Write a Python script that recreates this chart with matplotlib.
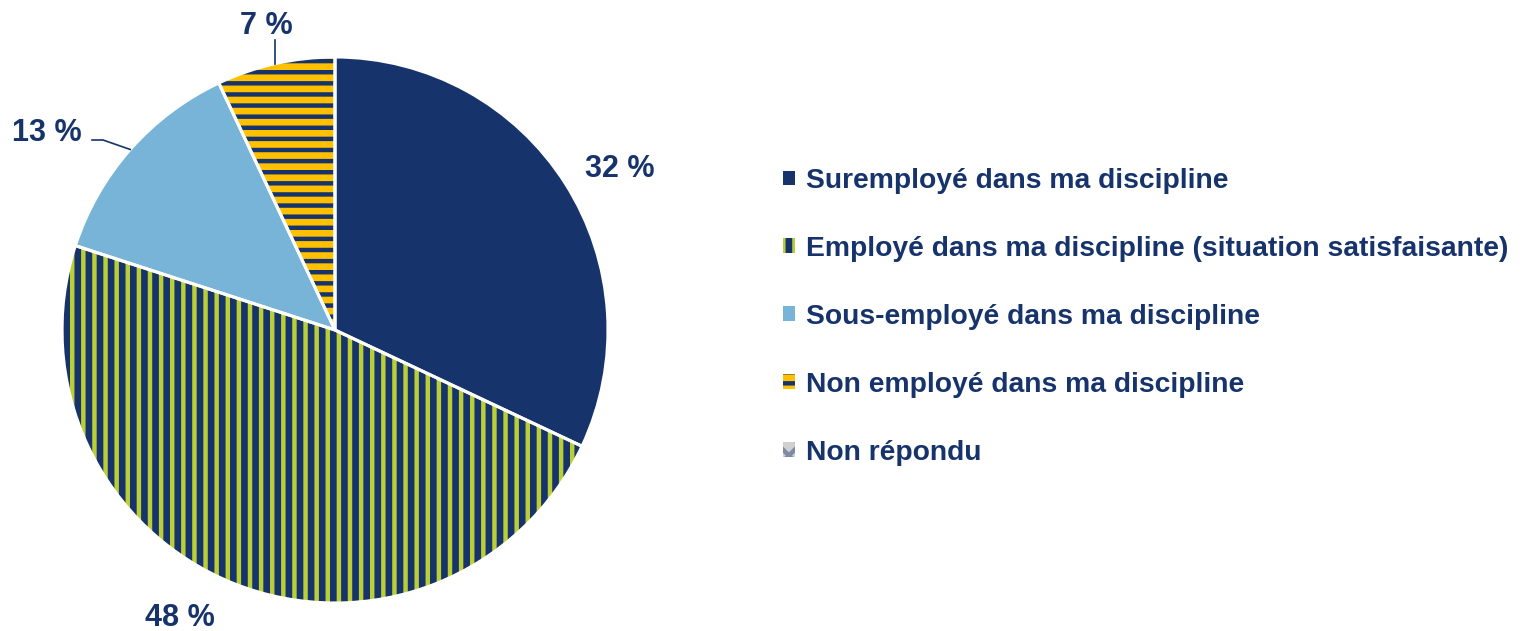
import numpy as np
import matplotlib
matplotlib.use("Agg")
import matplotlib.pyplot as plt
from matplotlib.patches import Patch

plt.rcParams['font.family'] = ['Liberation Sans', 'DejaVu Sans']
plt.rcParams['hatch.linewidth'] = 1.6

# donnees
categories = ['Suremployé dans ma discipline',
              'Employé dans ma discipline (situation satisfaisante)',
              'Sous-employé dans ma discipline',
              'Non employé dans ma discipline',
              'Non répondu']
values = [32, 48, 13, 7, 0]
labels = ['32 %', '48 %', '13 %', '7 %']

navy = '#16336B'
lime = '#BACF35'
gold = '#FFC000'
sky = '#78B4D8'
grey = '#D0D0D0'

face_colors = [navy, navy, sky, gold, grey]
hatch_colors = [navy, lime, sky, navy, '#7F8AA3']
hatches = [None, '|||', None, '---', 'xxx']

fig = plt.figure(figsize=(7.675, 3.155), dpi=200)
W, H = 1535, 631
cx, cy, R = 335, 330, 273
ax = fig.add_axes([(cx - R) / W, (H - cy - R) / H, 2 * R / W, 2 * R / H])

# secteurs non nuls
vals = [v for v in values if v > 0]
wedges, _ = ax.pie(vals, colors=face_colors[:len(vals)], startangle=90,
                   counterclock=False, radius=1, wedgeprops=dict(linewidth=0))
for w, hc, h in zip(wedges, hatch_colors, hatches):
    w.set_edgecolor(hc)
    w.set_linewidth(0)
    if h:
        w.set_hatch(h)

# bordures blanches
ax.pie(vals, startangle=90, counterclock=False, radius=1,
       wedgeprops=dict(fill=False, edgecolor='white', linewidth=1.1))
ax.set_aspect('auto')
ax.set_xlim(-1, 1)
ax.set_ylim(-1, 1)
ax.axis('off')

# etiquettes
label_pos = [(1.044, 0.59), (-0.568, -1.055), (-1.055, 0.72), (-0.25, 1.113)]
for lab, (x, y) in zip(labels, label_pos):
    ax.text(x, y, lab, ha='center', va='center', fontsize=11, fontweight='bold',
            color=navy, clip_on=False)

# lignes de rappel
angles = np.cumsum([0] + vals)
mids = 90 - (angles[:-1] + angles[1:]) / 2 * 3.6
t = np.deg2rad(mids[2])
ax.plot([np.cos(t), -0.85, -0.89], [np.sin(t), 0.696, 0.696], color=navy,
        lw=0.6, clip_on=False)
t = np.deg2rad(mids[3])
ax.plot([np.cos(t), np.cos(t)], [np.sin(t), 1.062], color=navy, lw=0.6,
        clip_on=False)

# legende
handles = [Patch(facecolor=fc, edgecolor=hc, hatch=h, linewidth=0)
           for fc, hc, h in zip(face_colors, hatch_colors, hatches)]
leg = fig.legend(handles, categories, loc='upper left',
                 bbox_to_anchor=(783 / W, 1 - 168 / H), frameon=False,
                 handlelength=0.42, handleheight=0.42, handletextpad=0.4,
                 labelspacing=1.48, borderpad=0, borderaxespad=0,
                 prop=dict(size=10.2, weight='bold'))
for txt in leg.get_texts():
    txt.set_color(navy)

fig.savefig('out.png', dpi=200)
